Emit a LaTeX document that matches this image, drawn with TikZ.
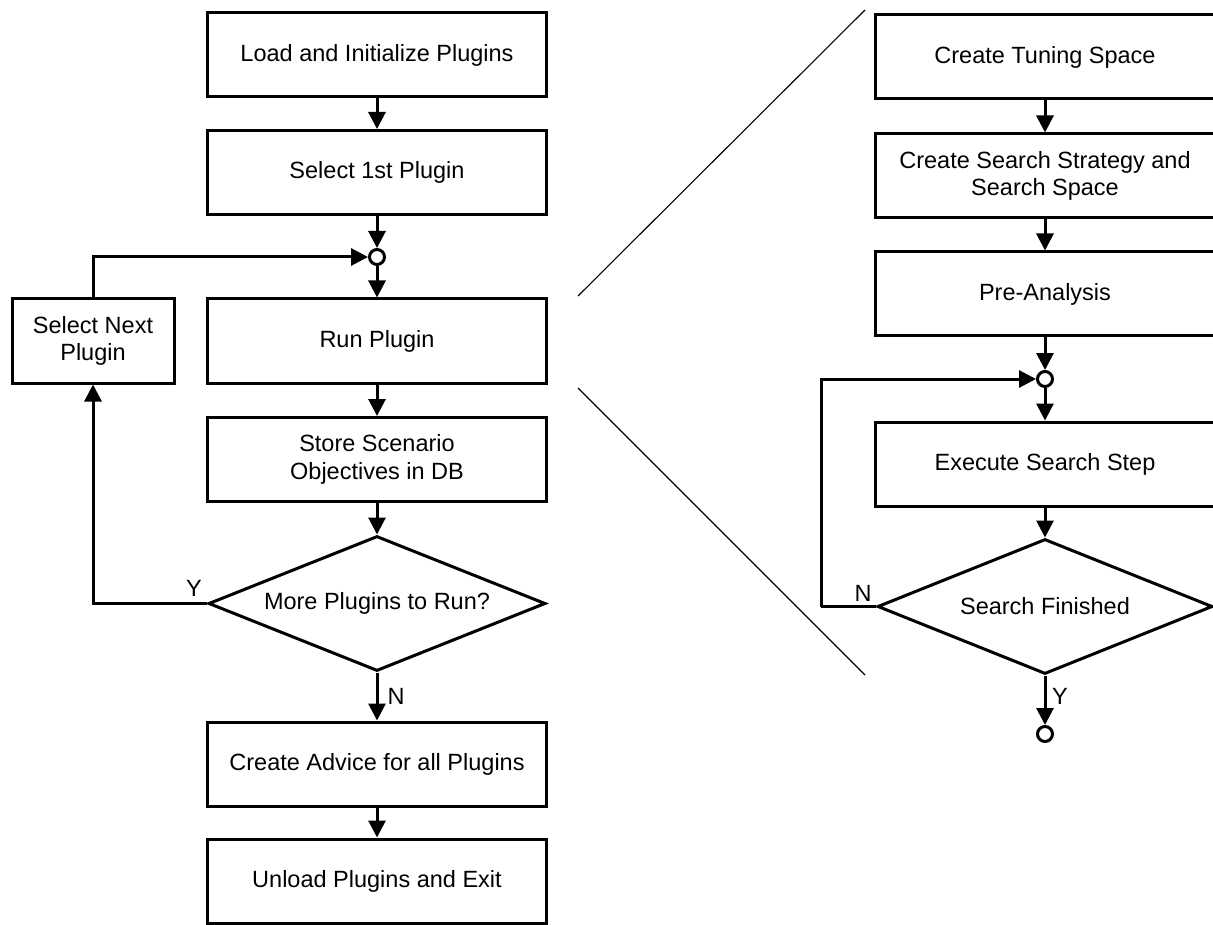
\documentclass[tikz,border=0pt]{standalone}
\usepackage{fontspec}
\setmainfont{Liberation Sans}
\usetikzlibrary{arrows.meta,shapes.geometric}

\begin{document}
\begin{tikzpicture}[x=1pt,y=-1pt,
  every node/.style={font=\fontsize{23.5}{27.7}\selectfont},
  stepbox/.style={draw, line width=3pt, rectangle, minimum width=339pt,
    minimum height=84pt, align=center, inner sep=0pt},
  smallbox/.style={stepbox, minimum width=162pt},
  decision/.style={draw, line width=3pt, diamond, minimum width=337pt,
    minimum height=135pt, inner sep=0pt},
  junction/.style={draw, line width=3pt, circle, fill=white,
    minimum size=15pt, inner sep=0pt},
  flow/.style={line width=3pt, -{Triangle[length=17pt,width=17pt]}},
  plain/.style={line width=3pt},
  zoomline/.style={line width=1.1pt},
  tag/.style={inner sep=0pt}]

  % page frame
  \useasboundingbox (0,0) rectangle (1213,925);
  \fill[white] (0,0) rectangle (1213,925);
  \clip (0,0) rectangle (1213,925);

  % ---- main plugin loop ----
  \node[stepbox] (load) at (377,55) {Load and Initialize Plugins};
  \node[stepbox] (first) at (377,172.5) {Select 1st Plugin};
  \node[junction] (j1) at (377,257) {};
  \node[stepbox] (run) at (377,341) {Run Plugin};
  \node[smallbox] (next) at (93,341) {Select Next\\Plugin};
  \node[stepbox] (store) at (377,459.5) {Store Scenario\\Objectives in DB};
  \node[decision] (more) at (377,603.5) {\makebox[0pt]{More Plugins to Run?}};
  \node[stepbox] (advice) at (377,764) {Create Advice for all Plugins};
  \node[stepbox] (unload) at (377,881) {Unload Plugins and Exit};

  \node[tag] (ly) at (194,588) {Y};
  \node[tag] (ln) at (396,696) {N};

  \draw[flow] (load) -- (first);
  \draw[flow] (first) -- (j1);
  \draw[flow] (j1) -- (run);
  \draw[flow] (run) -- (store);
  \draw[flow] (store) -- (more);
  \draw[flow] (more) -- (advice);
  \draw[flow] (advice) -- (unload);
  \draw[flow] (more.west) -| (next.south);
  \draw[flow] (next.north) |- (j1.west);

  % ---- inner tuning loop ----
  \node[stepbox, minimum width=340pt] (space) at (1045,57) {Create Tuning Space};
  \node[stepbox, minimum width=340pt] (strat) at (1045,176) {Create Search Strategy and\\Search Space};
  \node[stepbox, minimum width=340pt] (pre) at (1045,294) {Pre-Analysis};
  \node[junction] (j2) at (1045,379) {};
  \node[stepbox, minimum width=340pt] (exec) at (1045,464) {Execute Search Step};
  \node[decision, minimum width=335pt] (fin) at (1045,606.5) {\makebox[0pt]{Search Finished}};
  \node[junction] (done) at (1045,734) {};
  \coordinate (back) at (821,606.5);

  \node[tag] (rn) at (863,593) {N};
  \node[tag] (ry) at (1060,696) {Y};

  \draw[flow] (space) -- (strat);
  \draw[flow] (strat) -- (pre);
  \draw[flow] (pre) -- (j2);
  \draw[flow] (j2) -- (exec);
  \draw[flow] (exec) -- (fin);
  \draw[flow] (fin) -- (done);
  \draw[plain] (fin.west) -- (back);
  \draw[flow] (back) |- (j2.west);

  % ---- expansion lines from Run Plugin ----
  \coordinate (za) at (578,296);
  \coordinate (zb) at (865,10);
  \coordinate (zc) at (578,388);
  \coordinate (zd) at (865,675);
  \draw[zoomline] (za) -- (zb);
  \draw[zoomline] (zc) -- (zd);
\end{tikzpicture}
\end{document}
